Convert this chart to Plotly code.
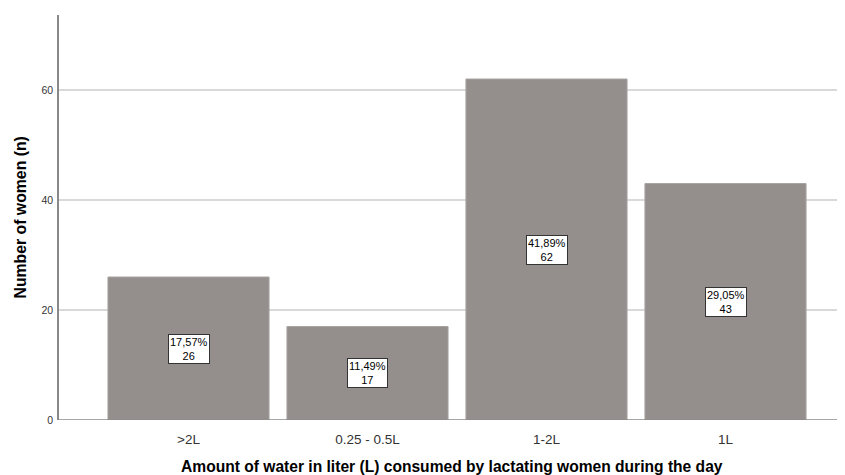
import plotly.graph_objects as go

categories = [">2L", "0.25 - 0.5L", "1-2L", "1L"]
counts = [26, 17, 62, 43]
percent_labels = ["17,57%", "11,49%", "41,89%", "29,05%"]
y_ticks = [0, 20, 40, 60]

bar_color = "#948f8d"
font_family = "Arial, Liberation Sans, sans-serif"

fig = go.Figure()
fig.add_trace(go.Bar(
    x=list(range(len(categories))),
    y=counts,
    width=0.9,
    marker=dict(color=bar_color, line=dict(color="#a8a4a2", width=1)),
    hoverinfo="skip",
))

for i, (c, p) in enumerate(zip(counts, percent_labels)):
    fig.add_annotation(
        x=i, y=c / 2, xref="x", yref="y",
        text=f"{p}<br>{c}",
        showarrow=False,
        font=dict(family=font_family, size=11, color="#000000"),
        bgcolor="#ffffff",
        bordercolor="#333333",
        borderwidth=1,
        borderpad=1,
    )

# axis titles
fig.add_annotation(
    x=0.5, y=0, xref="paper", yref="paper", yshift=-46,
    text="<b>Amount of water in liter (L) consumed by lactating women during the day</b>",
    showarrow=False, xanchor="center", yanchor="middle",
    font=dict(family=font_family, size=15.6, color="#000000"),
)
fig.add_annotation(
    x=0, y=0.5, xref="paper", yref="paper", xshift=-39,
    text="<b>Number of women (n)</b>", textangle=-90,
    showarrow=False, xanchor="center", yanchor="middle",
    font=dict(family=font_family, size=15.8, color="#000000"),
)

fig.update_layout(
    width=837, height=467,
    margin=dict(l=51, r=0, t=7, b=55),
    plot_bgcolor="#ffffff",
    paper_bgcolor="#ffffff",
    showlegend=False,
    font=dict(family=font_family, color="#333333"),
    xaxis=dict(
        range=[-0.7235, 3.6676],
        tickmode="array",
        tickvals=list(range(len(categories))),
        ticktext=categories,
        tickfont=dict(size=13.5, color="#333333"),
        showgrid=False,
        zeroline=False,
        showline=False,
        ticks="",
        automargin=False,
        ticklabelstandoff=9,
    ),
    yaxis=dict(
        range=[0, 73.64],
        tickmode="array",
        tickvals=y_ticks,
        tickfont=dict(size=10.5, color="#333333"),
        showgrid=True,
        gridcolor="#d9d9d9",
        gridwidth=1.5,
        zeroline=False,
        showline=True,
        linecolor="#888888",
        linewidth=1.5,
        ticks="",
        automargin=False,
        ticklabelstandoff=2,
    ),
)

# baseline along y=0
fig.add_shape(type="line", xref="paper", yref="y", x0=0, x1=1, y0=0, y1=0,
              line=dict(color="#888888", width=1.5))

fig.write_html("out.html")
